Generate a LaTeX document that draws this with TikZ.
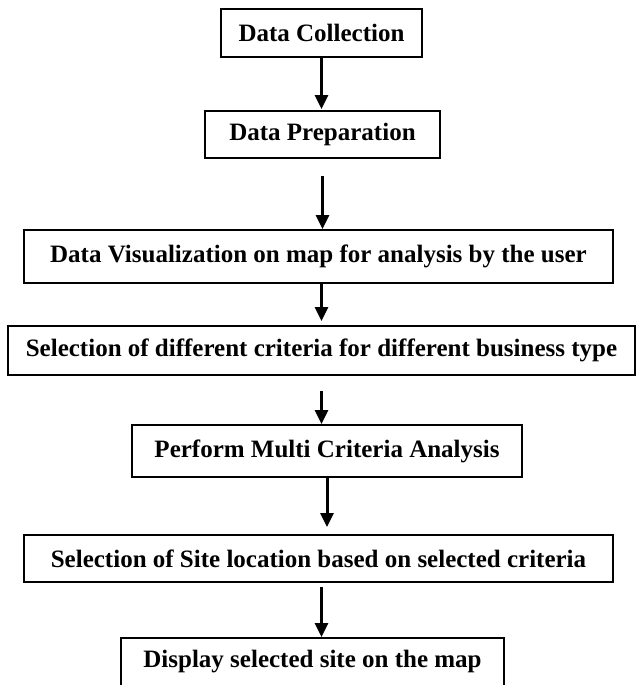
\documentclass[tikz,border=0pt]{standalone}
\usepackage{fontspec}
\setmainfont{Liberation Serif}
\usetikzlibrary{arrows.meta,positioning,calc}
\tikzset{
  stage/.style={draw=black, line width=2pt, align=center, inner sep=0pt,
    font=\fontsize{25}{30}\selectfont\bfseries, text=black},
  arr/.style={-{Triangle[length=14pt,width=13pt]}, line width=3pt, draw=black},
}
\begin{document}
\begin{tikzpicture}[x=1pt,y=-1pt]
  \useasboundingbox (0,0) rectangle (637,685);
  \clip (0,0) rectangle (637,685);
  % stages, top to bottom
  \node[stage, minimum width=201, minimum height=48] (collect) at (321.5,33) {Data Collection};
  \node[stage, minimum width=235, minimum height=47] (prep) at (322.5,134.5) {Data Preparation};
  \node[stage, minimum width=589, minimum height=53] (visual) at (318.5,256.5)
    {Data Visualization on map for analysis by the user};
  \node[stage, minimum width=627, minimum height=49] (criteria) at (321.5,350.5)
    {Selection of different criteria for different business type};
  \node[stage, minimum width=390, minimum height=52] (mca) at (327,451) {Perform Multi Criteria Analysis};
  \node[stage, minimum width=589, minimum height=47] (site) at (318.5,558.5)
    {Selection of Site location based on selected criteria};
  \node[stage, minimum width=383, minimum height=48] (show) at (312.5,662) {Display selected site on the map};
  % connectors
  \draw[arr, shorten >=1pt] (collect.south) -- (prep.north -| collect.south);
  \draw[arr, shorten <=17pt] (prep.south) -- (visual.north -| prep.south);
  \draw[arr, shorten >=4pt] (visual.south -| collect.south) -- (criteria.north -| collect.south);
  \draw[arr, shorten <=15pt] (criteria.south) -- (mca.north -| criteria.south);
  \draw[arr, shorten >=7pt] (mca.south) -- (site.north -| mca.south);
  \draw[arr, shorten <=4pt] (site.south -| criteria.south) -- (show.north -| criteria.south);
\end{tikzpicture}
\end{document}
